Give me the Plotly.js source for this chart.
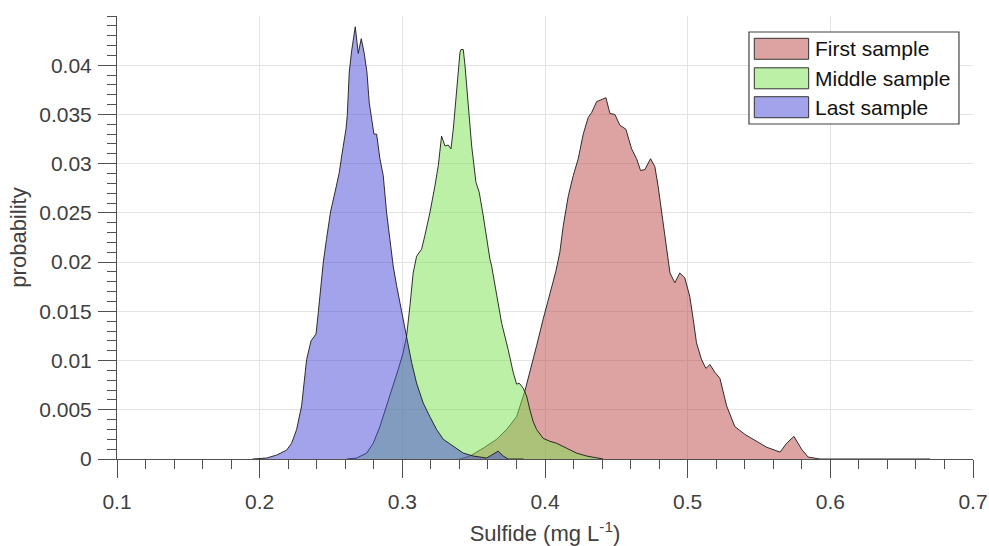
<!DOCTYPE html>
<html>
<head>
<meta charset="utf-8">
<script src="https://cdn.plot.ly/plotly-3.0.1.min.js"></script>
<style>html,body{margin:0;padding:0;background:#fff;}#chart{width:989px;height:546px;}</style>
</head>
<body>
<div id="chart"></div>
<script>
// ---- data ----
var seriesNames = ["First sample", "Middle sample", "Last sample"];

var firstX = [0.340, 0.3474, 0.3567, 0.3661, 0.3731, 0.3801, 0.3859, 0.3894, 0.3941, 0.3987, 0.4034, 0.4075, 0.4104, 0.4128, 0.4163, 0.4198, 0.4233, 0.4268, 0.4303, 0.4327, 0.4362, 0.4397, 0.4427, 0.4455, 0.4490, 0.4525, 0.4567, 0.4607, 0.4642, 0.4670, 0.4700, 0.4740, 0.4770, 0.4793, 0.4817, 0.4840, 0.4876, 0.4910, 0.4945, 0.4980, 0.5015, 0.5039, 0.5062, 0.5097, 0.5128, 0.5156, 0.5191, 0.5226, 0.5249, 0.5273, 0.5330, 0.5401, 0.5483, 0.5553, 0.5648, 0.5694, 0.5745, 0.5798, 0.5844, 0.5927, 0.67];
var firstY = [0, 0.0003, 0.0011, 0.0020, 0.0030, 0.0043, 0.0069, 0.0088, 0.0115, 0.0142, 0.0169, 0.0190, 0.0210, 0.0237, 0.0267, 0.0288, 0.0305, 0.0330, 0.0347, 0.0352, 0.0363, 0.0365, 0.0367, 0.0351, 0.0350, 0.0339, 0.0335, 0.0315, 0.0305, 0.0293, 0.0294, 0.0305, 0.0297, 0.0277, 0.0250, 0.0227, 0.0189, 0.0179, 0.0189, 0.0184, 0.0165, 0.0142, 0.0118, 0.0101, 0.0092, 0.0096, 0.0088, 0.0082, 0.0067, 0.0054, 0.0033, 0.0025, 0.0018, 0.0012, 0.0007, 0.0016, 0.0023, 0.0010, 0.0002, 0, 0];

var middleX = [0.2610, 0.2680, 0.2750, 0.2796, 0.2843, 0.2890, 0.2936, 0.2971, 0.3006, 0.3030, 0.3053, 0.3076, 0.3100, 0.3135, 0.3158, 0.3193, 0.3228, 0.3252, 0.3275, 0.3299, 0.3322, 0.3341, 0.3357, 0.3381, 0.3404, 0.3411, 0.3427, 0.3439, 0.3462, 0.3486, 0.3516, 0.3539, 0.3567, 0.3591, 0.3614, 0.3626, 0.3661, 0.3696, 0.3742, 0.3777, 0.3801, 0.3819, 0.3847, 0.3871, 0.3894, 0.3917, 0.3941, 0.3987, 0.4034, 0.4081, 0.4151, 0.4221, 0.4292, 0.4362, 0.4408];
var middleY = [0, 0.0001, 0.0006, 0.0016, 0.0033, 0.0054, 0.0074, 0.0091, 0.0108, 0.0125, 0.0155, 0.0189, 0.0206, 0.0213, 0.0227, 0.0250, 0.0277, 0.0298, 0.0328, 0.0318, 0.0319, 0.0315, 0.0335, 0.0376, 0.0413, 0.0416, 0.0416, 0.0400, 0.0359, 0.0318, 0.0281, 0.0271, 0.0247, 0.0223, 0.0203, 0.0196, 0.0165, 0.0138, 0.0111, 0.0088, 0.0076, 0.0077, 0.0072, 0.0064, 0.0050, 0.0038, 0.0030, 0.0021, 0.0018, 0.0016, 0.0011, 0.0006, 0.0003, 0.0001, 0];

var lastX = [0.195, 0.2049, 0.2119, 0.2189, 0.2224, 0.2259, 0.2294, 0.2329, 0.2360, 0.2395, 0.2411, 0.2446, 0.2468, 0.2498, 0.2528, 0.2558, 0.2575, 0.2605, 0.2614, 0.2628, 0.2645, 0.2670, 0.2691, 0.2712, 0.2733, 0.2752, 0.2768, 0.2785, 0.2801, 0.2820, 0.2843, 0.2866, 0.2890, 0.2913, 0.2936, 0.2960, 0.2995, 0.3030, 0.3065, 0.3100, 0.3146, 0.3193, 0.3240, 0.3287, 0.3357, 0.3427, 0.3497, 0.3591, 0.3626, 0.3672, 0.3707, 0.3742, 0.385];
var lastY = [0, 0.0001, 0.0004, 0.0009, 0.0016, 0.0030, 0.0054, 0.0101, 0.0120, 0.0127, 0.0149, 0.0200, 0.0223, 0.0252, 0.0271, 0.0291, 0.0308, 0.0335, 0.0349, 0.0393, 0.0415, 0.0439, 0.0412, 0.0427, 0.0412, 0.0393, 0.0362, 0.0345, 0.0330, 0.0330, 0.0305, 0.0288, 0.0250, 0.0223, 0.0196, 0.0176, 0.0149, 0.0125, 0.0098, 0.0077, 0.0057, 0.0043, 0.0030, 0.0020, 0.0013, 0.0006, 0.0003, 0.0001, 0.0004, 0.0008, 0.0003, 0, 0];

var xTickVals = [0.1, 0.2, 0.3, 0.4, 0.5, 0.6, 0.7];
var xTickText = ["0.1", "0.2", "0.3", "0.4", "0.5", "0.6", "0.7"];
var yTickVals = [0, 0.005, 0.01, 0.015, 0.02, 0.025, 0.03, 0.035, 0.04];
var yTickText = ["0", "0.005", "0.01", "0.015", "0.02", "0.025", "0.03", "0.035", "0.04"];

// ---- styling ----
var fills = ["rgba(187,71,71,0.5)", "rgba(121,225,77,0.5)", "rgba(71,71,217,0.5)"];
var FONT = "Liberation Sans, Arial, Helvetica, sans-serif";
var TXT = "#404040";
var AX = "#505050";

function area(x, y, name, fc) {
  return {
    type: "scatter", mode: "lines", x: x, y: y, name: name,
    fill: "tozeroy", fillcolor: fc,
    line: {color: "#1a1a1a", width: 0.9, shape: "linear"},
    hoverinfo: "skip", showlegend: false
  };
}

var data = [
  area(firstX, firstY, seriesNames[0], fills[0]),
  area(middleX, middleY, seriesNames[1], fills[1]),
  area(lastX, lastY, seriesNames[2], fills[2])
];

// ---- legend box (paper coordinates) ----
var legBox = {x0: 0.7383, x1: 0.9836, y0: 0.7562, y1: 0.9639};
var swX0 = 0.7445, swX1 = 0.8080, swH = 0.0474;
var rowY = [0.9260, 0.8594, 0.7941];
var textX = 0.8130;

var shapes = [{
  type: "rect", xref: "paper", yref: "paper",
  x0: legBox.x0, x1: legBox.x1, y0: legBox.y0, y1: legBox.y1,
  fillcolor: "#ffffff", line: {color: "#404040", width: 1.2}, layer: "above"
}];
var annotations = [];
for (var i = 0; i < seriesNames.length; i++) {
  shapes.push({
    type: "rect", xref: "paper", yref: "paper",
    x0: swX0, x1: swX1, y0: rowY[i] - swH / 2, y1: rowY[i] + swH / 2,
    fillcolor: fills[i], line: {color: "#333333", width: 1}, layer: "above"
  });
  annotations.push({
    xref: "paper", yref: "paper", x: textX, y: rowY[i],
    xanchor: "left", yanchor: "middle", showarrow: false,
    text: seriesNames[i], font: {family: FONT, size: 21, color: "#111"}
  });
}

var layout = {
  width: 989, height: 546,
  margin: {l: 117, r: 16, t: 16, b: 87, pad: 0},
  paper_bgcolor: "#fff", plot_bgcolor: "#fff",
  font: {family: FONT, color: TXT, size: 21},
  showlegend: false,
  shapes: shapes,
  annotations: annotations,
  xaxis: {
    range: [0.1, 0.7], tickmode: "array", tickvals: xTickVals, ticktext: xTickText,
    ticks: "outside", ticklen: 18, tickwidth: 1, tickcolor: AX,
    showline: true, linecolor: AX, linewidth: 1, mirror: false,
    showgrid: true, gridcolor: "#e3e3e3", gridwidth: 1, zeroline: false,
    tickfont: {family: FONT, size: 21, color: TXT},
    ticklabelstandoff: 6,
    minor: {dtick: 0.02, tick0: 0.1, ticks: "outside", ticklen: 9, tickwidth: 1, tickcolor: AX, showgrid: false},
    title: {text: "Sulfide (mg L<sup>-1</sup>)", font: {family: FONT, size: 22, color: TXT}, standoff: 19},
    automargin: false, fixedrange: true
  },
  yaxis: {
    range: [0, 0.045], tickmode: "array", tickvals: yTickVals, ticktext: yTickText,
    ticks: "outside", ticklen: 18, tickwidth: 1, tickcolor: AX,
    showline: true, linecolor: AX, linewidth: 1, mirror: false,
    showgrid: true, gridcolor: "#e3e3e3", gridwidth: 1, zeroline: false,
    tickfont: {family: FONT, size: 21, color: TXT},
    ticklabelstandoff: 2,
    minor: {dtick: 0.001, tick0: 0, ticks: "outside", ticklen: 9, tickwidth: 1, tickcolor: AX, showgrid: false},
    title: {text: "probability", font: {family: FONT, size: 22, color: TXT}, standoff: 6},
    automargin: false, fixedrange: true
  }
};

Plotly.newPlot("chart", data, layout, {displayModeBar: false, staticPlot: true});
</script>
</body>
</html>
